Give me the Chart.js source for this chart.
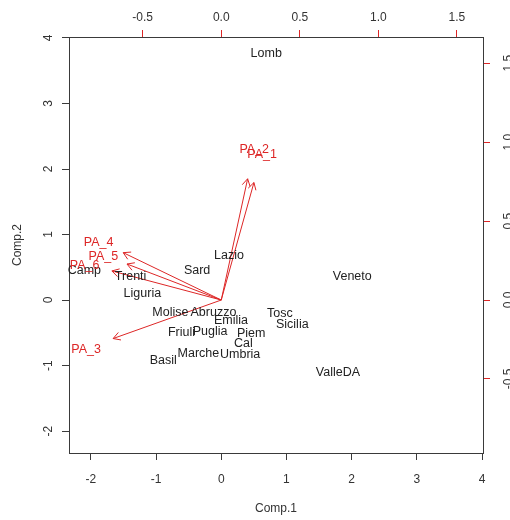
<!DOCTYPE html>
<html>
<head>
<meta charset="utf-8">
<script src="https://cdn.jsdelivr.net/npm/chart.js@4/dist/chart.umd.min.js"></script>
<style>
  html, body { margin: 0; padding: 0; background: #fff; }
  #wrap { width: 510px; height: 520px; }
</style>
</head>
<body>
<div id="wrap"><canvas id="c" width="510" height="520"></canvas></div>
<script>
// ---- data ----
const regions = ['Lomb','Veneto','Lazio','Sard','Camp','Trenti','Liguria','Molise','Abruzzo','Emilia',
                 'Friuli','Puglia','Piem','Cal','Basil','Marche','Umbria','Tosc','Sicilia','ValleDA'];
const comp1 = [0.69, 2.01, 0.12, -0.37, -2.10, -1.39, -1.21, -0.78, -0.12, 0.15,
               -0.61, -0.17, 0.46, 0.34, -0.89, -0.35, 0.29, 0.90, 1.09, 1.79];
const comp2 = [3.79, 0.38, 0.70, 0.475, 0.475, 0.38, 0.12, -0.17, -0.17, -0.29,
               -0.475, -0.46, -0.49, -0.64, -0.90, -0.80, -0.81, -0.18, -0.35, -1.09];

const variables = ['PA_1','PA_2','PA_3','PA_4','PA_5','PA_6'];
const load1 = [0.26, 0.21, -0.86, -0.78, -0.75, -0.87];
const load2 = [0.93, 0.96, -0.305, 0.375, 0.285, 0.23];
const arrowScale = 0.8; // biplot draws arrows to 0.8 of the loading, labels at the loading

const scoreTicks = [-2, -1, 0, 1, 2, 3, 4];
const loadTicks = [-0.5, 0.0, 0.5, 1.0, 1.5];
const scoreRange = [-2.335, 4.015];
const loadRange = [-0.969, 1.666];

// ---- styling ----
const FONT = "'Liberation Sans', Arial, sans-serif";
const AXIS_COL = '#3a3a3a';
const TEXT_COL = '#222222';
const RED = '#dd2626';

const datasets = [{
  type: 'scatter',
  label: 'scores',
  data: regions.map((r, i) => ({x: comp1[i], y: comp2[i]})),
  pointRadius: 0,
  xAxisID: 'x', yAxisID: 'y'
}];
variables.forEach((v, i) => {
  datasets.push({
    type: 'line',
    label: v,
    data: [{x: 0, y: 0}, {x: load1[i] * arrowScale, y: load2[i] * arrowScale}],
    borderColor: RED,
    borderWidth: 1,
    pointRadius: 0,
    fill: false,
    xAxisID: 'x2', yAxisID: 'y2'
  });
});

function fixTicks(values) {
  return function(scale) { scale.ticks = values.map(v => ({value: v})); };
}

const labelsPlugin = {
  id: 'biplotLabels',
  afterDraw(chart) {
    const ctx = chart.ctx;
    const sx = chart.scales.x, sy = chart.scales.y, sx2 = chart.scales.x2, sy2 = chart.scales.y2;
    ctx.save();
    // rotated tick labels on the vertical axes
    ctx.font = '12px ' + FONT;
    ctx.fillStyle = '#333';
    ctx.textAlign = 'center';
    ctx.textBaseline = 'middle';
    scoreTicks.forEach(v => {
      const py = sy.getPixelForValue(v);
      ctx.save();
      ctx.translate(sy.right - 20, py);
      ctx.rotate(-Math.PI / 2);
      ctx.fillText(String(v), 0, 0);
      ctx.restore();
    });
    loadTicks.forEach(v => {
      const py = sy2.getPixelForValue(v);
      ctx.save();
      ctx.translate(sy2.left + 26, py);
      ctx.rotate(-Math.PI / 2);
      ctx.fillText(v.toFixed(1), 0, 0);
      ctx.restore();
    });
    // observation labels
    const dy = 1.5;
    ctx.font = '12.5px ' + FONT;
    ctx.fillStyle = TEXT_COL;
    regions.forEach((r, i) => {
      ctx.fillText(r, sx.getPixelForValue(comp1[i]), sy.getPixelForValue(comp2[i]) + dy);
    });
    // variable labels
    ctx.fillStyle = RED;
    variables.forEach((v, i) => {
      ctx.fillText(v, sx2.getPixelForValue(load1[i]), sy2.getPixelForValue(load2[i]) + dy);
    });
    // arrow heads
    ctx.strokeStyle = RED;
    ctx.lineWidth = 1;
    const x0 = sx2.getPixelForValue(0), y0 = sy2.getPixelForValue(0);
    variables.forEach((v, i) => {
      const tx = sx2.getPixelForValue(load1[i] * arrowScale);
      const ty = sy2.getPixelForValue(load2[i] * arrowScale);
      const ang = Math.atan2(ty - y0, tx - x0);
      const L = 8, a = Math.PI / 6;
      ctx.beginPath();
      ctx.moveTo(tx - L * Math.cos(ang - a), ty - L * Math.sin(ang - a));
      ctx.lineTo(tx, ty);
      ctx.lineTo(tx - L * Math.cos(ang + a), ty - L * Math.sin(ang + a));
      ctx.stroke();
    });
    ctx.restore();
  }
};

new Chart(document.getElementById('c'), {
  data: { datasets },
  options: {
    responsive: false,
    animation: false,
    layout: { padding: 0 },
    plugins: { legend: { display: false }, tooltip: { enabled: false } },
    scales: {
      x: {
        type: 'linear', position: 'bottom',
        min: scoreRange[0], max: scoreRange[1],
        afterBuildTicks: fixTicks(scoreTicks),
        afterFit: s => { s.height = 67; },
        grid: { drawOnChartArea: false, drawTicks: true, tickLength: 7, tickColor: AXIS_COL },
        border: { display: true, color: AXIS_COL, width: 1 },
        ticks: { color: '#333', font: { family: FONT, size: 12 }, padding: 12, maxRotation: 0,
                 callback: v => String(v) },
        title: { display: true, text: 'Comp.1', color: '#333', font: { family: FONT, size: 12 },
                 padding: { top: 0, bottom: 4 } }
      },
      x2: {
        type: 'linear', position: 'top',
        min: loadRange[0], max: loadRange[1],
        afterBuildTicks: fixTicks(loadTicks),
        afterFit: s => { s.height = 37; },
        grid: { drawOnChartArea: false, drawTicks: true, tickLength: 7, tickColor: RED },
        border: { display: true, color: AXIS_COL, width: 1 },
        ticks: { color: '#333', font: { family: FONT, size: 12 }, padding: 5, maxRotation: 0,
                 callback: v => Number(v).toFixed(1) }
      },
      y: {
        type: 'linear', position: 'left',
        min: scoreRange[0], max: scoreRange[1],
        afterBuildTicks: fixTicks(scoreTicks),
        afterFit: s => { s.width = 69; },
        grid: { drawOnChartArea: false, drawTicks: true, tickLength: 7, tickColor: AXIS_COL },
        border: { display: true, color: AXIS_COL, width: 1 },
        ticks: { display: false },
        title: { display: true, text: 'Comp.2', color: '#333', font: { family: FONT, size: 12 },
                 padding: { top: 10, bottom: 0 } }
      },
      y2: {
        type: 'linear', position: 'right',
        min: loadRange[0], max: loadRange[1],
        afterBuildTicks: fixTicks(loadTicks),
        afterFit: s => { s.width = 27; },
        grid: { drawOnChartArea: false, drawTicks: true, tickLength: 7, tickColor: RED },
        border: { display: true, color: AXIS_COL, width: 1 },
        ticks: { display: false }
      }
    }
  },
  plugins: [labelsPlugin]
});
</script>
</body>
</html>
